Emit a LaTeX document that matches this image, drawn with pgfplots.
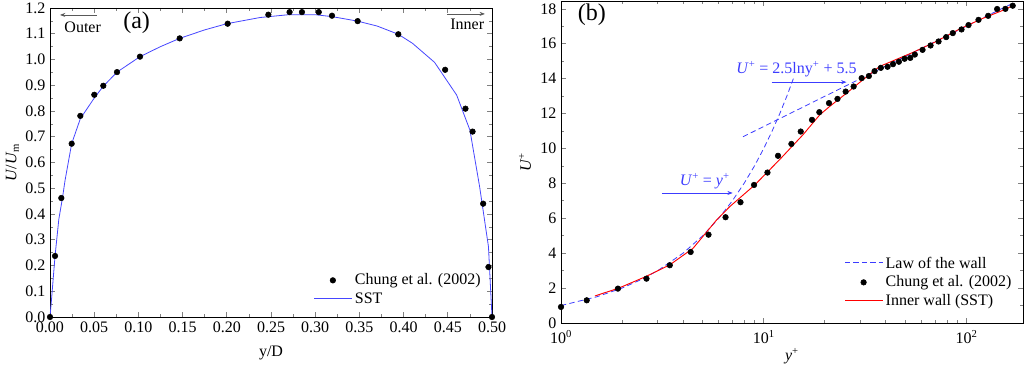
\documentclass[border=0pt]{standalone}
\usepackage{pgfplots}
\pgfplotsset{compat=1.18}
\usepackage{fontspec}
\setmainfont{Liberation Serif}
\usetikzlibrary{arrows.meta}
\definecolor{sstblue}{RGB}{70,70,255}
\definecolor{annblue}{RGB}{60,60,255}

\begin{document}
\begin{tikzpicture}
\useasboundingbox (0pt,0pt) rectangle (768pt,277.5pt);
\pgfplotsset{
  every axis/.append style={
    scale only axis,
    font=\fontsize{12}{14}\selectfont,
    tick label style={font=\fontsize{12}{14}\selectfont},
    label style={font=\fontsize{12}{14}\selectfont},
    tick align=inside,
    major tick length=4pt,
    minor tick length=2.2pt,
    tick style={line width=0.5pt},
    axis line style={line width=0.6pt},
    /pgf/number format/assume math mode=true,
    legend cell align=left,
    legend style={draw=none, fill=none, font=\fontsize{12}{14}\selectfont, row sep=0.3pt},
  }
}

% ---------------- (a) ----------------
\begin{axis}[
  at={(37.5pt,39.75pt)}, anchor=south west,
  width=331.5pt, height=231.75pt,
  xmin=0, xmax=0.5, ymin=0, ymax=1.2,
  xtick={0,0.05,0.1,0.15,0.2,0.25,0.3,0.35,0.4,0.45,0.5},
  ytick={0,0.1,0.2,0.3,0.4,0.5,0.6,0.7,0.8,0.9,1.0,1.1,1.2},
  minor x tick num=1, minor y tick num=1,
  xticklabel style={/pgf/number format/.cd, fixed, fixed zerofill, precision=2},
  yticklabel style={/pgf/number format/.cd, fixed, fixed zerofill, precision=1},
  xlabel={y/D},
  xlabel style={yshift=-3pt},
  ylabel={\textit{U}/\textit{U}\textsubscript{m}},
  ylabel style={yshift=-2pt},
  legend style={at={(0.99,0.02)}, anchor=south east},
  clip=false,
]
\addplot[only marks, mark=*, mark size=2.1pt, black,
  legend image code/.code={\draw[black, fill=black] (0.5cm,0cm) circle (2.1pt);}] coordinates {
(0.0,0.0) (0.0057,0.237) (0.0128,0.462) (0.0245,0.673) (0.0343,0.781) (0.0501,0.863)
(0.0603,0.898) (0.0758,0.951) (0.1018,1.011) (0.1467,1.082) (0.201,1.139)
(0.247,1.174) (0.271,1.184) (0.285,1.184) (0.304,1.184) (0.319,1.170)
(0.348,1.149) (0.394,1.098) (0.447,0.960) (0.470,0.809) (0.478,0.720)
(0.490,0.440) (0.496,0.194) (0.5,0.0)
};
\addlegendentry{Chung et al. (2002)}
\addplot[color=sstblue, line width=0.6pt,
  legend image code/.code={\node[inner sep=0pt, anchor=west, text=sstblue] at (0cm,0cm) {\textcolor{sstblue}{\rule[-0.3pt]{1cm}{0.6pt}}};}] coordinates {
(0,0) (0.002,0.08) (0.0057,0.237) (0.010,0.38) (0.014,0.46) (0.017,0.53)
(0.0245,0.673) (0.0343,0.77) (0.05,0.85) (0.06,0.895) (0.0758,0.951)
(0.1018,1.011) (0.125,1.05) (0.1467,1.082) (0.175,1.115) (0.2,1.139)
(0.2376,1.163) (0.27,1.174) (0.3,1.174) (0.32,1.166) (0.348,1.149)
(0.37,1.13) (0.394,1.098) (0.41,1.063) (0.435,0.989) (0.46,0.862)
(0.475,0.726) (0.486,0.506) (0.496,0.273) (0.5,0)
};
\addlegendentry{SST}
\draw[-{Stealth[length=4pt,width=3pt]}, gray!70!black, line width=0.5pt] (axis cs:0.053,1.173) -- (axis cs:0.0113,1.173);
\node at (axis cs:0.037,1.126) {Outer};
\draw[-{Stealth[length=4pt,width=3pt]}, gray!70!black, line width=0.5pt] (axis cs:0.449,1.177) -- (axis cs:0.492,1.177);
\node at (axis cs:0.472,1.138) {Inner};
\node[font=\fontsize{18}{20}\selectfont] at (axis cs:0.098,1.142) {(a)};
\end{axis}

% ---------------- (b) ----------------
\begin{axis}[
  at={(420.75pt,35.25pt)}, anchor=south west,
  width=346.5pt, height=241.5pt,
  xmode=log, xmin=1, xmax=190, ymin=0, ymax=18.45,
  xtick={1,10,100},
  xticklabels={10\textsuperscript{0},10\textsuperscript{1},10\textsuperscript{2}},
  minor xtick={2,3,4,5,6,7,8,9,20,30,40,50,60,70,80,90},
  ytick={0,2,4,6,8,10,12,14,16,18},
  minor y tick num=1,
  xticklabel style={yshift=-2pt},
  xlabel={\textit{y}\textsuperscript{+}},
  xlabel style={yshift=3pt},
  ylabel={\textit{U}\textsuperscript{+}},
  legend style={at={(0.99,0.03)}, anchor=south east},
  clip=false,
]
\addplot[color=annblue, dash pattern=on 4pt off 2.5pt, line width=0.6pt,
  legend image code/.code={\node[inner sep=0pt, anchor=west, text=annblue] at (0cm,0cm) {\textcolor{annblue}{\rule[-0.3pt]{4pt}{0.6pt}\hspace{2.3pt}\rule[-0.3pt]{4pt}{0.6pt}\hspace{2.3pt}\rule[-0.3pt]{4pt}{0.6pt}\hspace{2.3pt}\rule[-0.3pt]{4pt}{0.6pt}\hspace{2.3pt}\rule[-0.3pt]{3.2pt}{0.6pt}}};}] coordinates {
(1,1) (1.5,1.5) (2,2) (2.5,2.5) (3,3) (4,4) (5,5) (6,6) (7,7) (8,8) (9,9)
(10,10) (11,11) (12,12) (13,13) (14,14)
};
\addlegendentry{Law of the wall}
\addplot[color=annblue, dash pattern=on 4pt off 2.5pt, line width=0.6pt, forget plot] coordinates {
(7.9,10.67) (10,11.26) (15,12.27) (20,12.99) (30,14.0) (40,14.72) (50,15.28)
(70,16.12) (100,17.01) (130,17.67) (165,18.26)
};
\addplot[only marks, mark=*, mark size=2.1pt, black,
  legend image code/.code={\draw[black, fill=black] (0.5cm,0cm) circle (2.1pt);}] coordinates {
(1.0,0.92) (1.339,1.30) (1.909,1.97) (2.64,2.54) (3.44,3.31) (4.36,4.07)
(5.34,5.06) (6.48,6.06) (7.68,6.92) (8.96,7.91) (10.43,8.62) (11.76,9.58)
(13.69,10.26) (15.22,10.97) (17.3,11.64) (18.8,12.08) (20.98,12.60)
(23.1,12.84) (25.35,13.26) (27.76,13.55) (30.4,14.03) (33.0,14.15)
(35.2,14.43) (37.8,14.62) (40.8,14.68) (43.4,14.83) (46.4,14.97)
(49.5,15.14) (52.8,15.19) (55.6,15.38) (60.7,15.65) (66.5,15.90)
(72.8,16.13) (79.4,16.38) (85.6,16.61) (94.5,16.82) (102.3,17.07)
(114.6,17.37) (127.9,17.60) (141.6,17.99) (155.6,18.0) (169,18.18)
};
\addlegendentry{Chung et al. (2002)}
\addplot[color=red, line width=0.7pt,
  legend image code/.code={\node[inner sep=0pt, anchor=west, text=red] at (0cm,0cm) {\textcolor{red}{\rule[-0.35pt]{1cm}{0.7pt}}};}] coordinates {
(1.47,1.55) (1.92,1.99) (2.62,2.66) (3.44,3.33) (4.48,4.28) (5.85,5.9)
(6.8,6.67) (9.03,7.91) (11.95,9.35) (15.6,10.78) (18.9,11.93) (21.1,12.4)
(25.6,13.17) (30.8,13.93) (37.3,14.7) (54.3,15.5) (70,16.1) (92.3,16.84)
(120,17.45) (150,17.9) (169,18.18)
};
\addlegendentry{Inner wall (SST)}
\node[annblue] at (axis cs:14.5,14.55)
  {\textit{U}\textsuperscript{+} = 2.5lny\textsuperscript{+} + 5.5};
\draw[-{Stealth[length=4pt,width=3pt]}, annblue, line width=0.5pt] (axis cs:10.95,13.8) -- (axis cs:25.6,13.8);
\node[annblue] at (axis cs:5.12,8.12)
  {\textit{U}\textsuperscript{+} = \textit{y}\textsuperscript{+}};
\draw[-{Stealth[length=4pt,width=3pt]}, annblue, line width=0.5pt] (axis cs:3.14,7.45) -- (axis cs:7.03,7.45);
\node[font=\fontsize{18}{20}\selectfont] at (axis cs:1.42,17.66) {(b)};
\end{axis}
\end{tikzpicture}
\end{document}
